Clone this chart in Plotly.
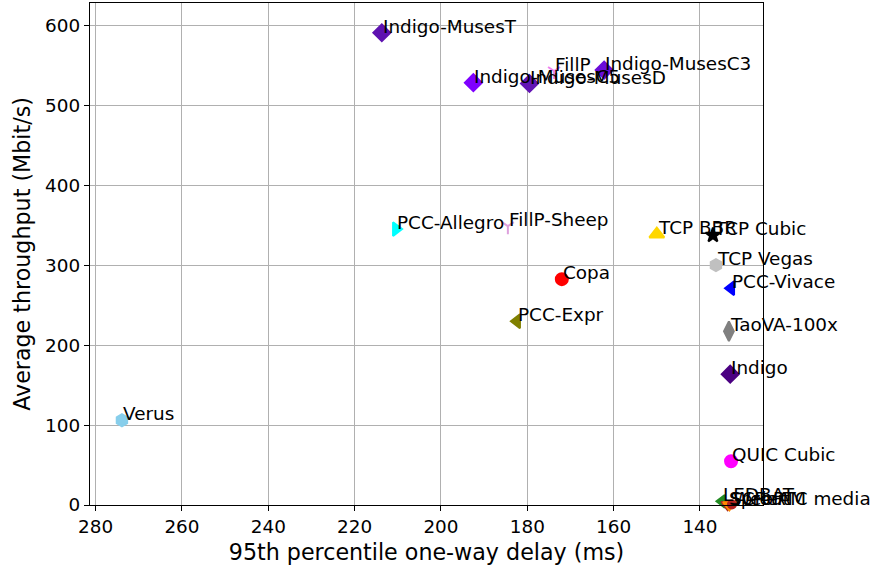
import plotly.graph_objects as go

# Scheme results: 95th percentile one-way delay (ms) vs average throughput (Mbit/s)
schemes = [
    "Indigo-MusesT", "Indigo-MusesC5", "Indigo-MusesD", "FillP", "Indigo-MusesC3",
    "PCC-Allegro", "FillP-Sheep", "TCP BBR", "TCP Cubic", "TCP Vegas",
    "PCC-Vivace", "Copa", "PCC-Expr", "TaoVA-100x", "Indigo",
    "Verus", "QUIC Cubic", "LEDBAT", "Sprout", "SCReAM", "WebRTC media",
]
delay_ms = [
    213.7, 192.5, 179.5, 173.8, 162.2,
    210.4, 184.5, 150.0, 137.0, 136.3,
    132.8, 172.0, 182.4, 133.3, 133.0,
    273.9, 132.8, 134.9, 133.6, 133.2, 132.6,
]
throughput = [
    590.7, 528.2, 527.2, 542.8, 544.0,
    345.1, 348.8, 338.8, 337.5, 300.0,
    271.2, 282.5, 229.9, 217.4, 163.6,
    106.0, 54.7, 4.6, 0.4, 0.1, 0.6,
]
colors = [
    "#5e12b0", "#7f00ff", "#6314b4", "#ee82ee", "#6a0dd8",
    "#00ffff", "#dda0dd", "#ffd700", "#000000", "#c0c0c0",
    "#0000ff", "#ff0000", "#808000", "#808080", "#4b0082",
    "#87ceeb", "#ff00ff", "#228b22", "#a52a2a", "#ff8c00", "#b22222",
]
symbols = [
    "diamond", "diamond", "diamond", "y-down-open", "diamond",
    "triangle-right", "y-down-open", "triangle-up", "star", "hexagon",
    "triangle-left", "circle", "triangle-left", "diamond-tall", "diamond",
    "hexagon", "circle", "triangle-left", "triangle-down", "triangle-down", "circle",
]
sizes = [
    13, 13, 13, 10, 13,
    12, 10, 13, 11, 12,
    12, 12, 12, 14, 13,
    12, 12, 11, 11, 11, 8,
]

x_ticks = [280, 260, 240, 220, 200, 180, 160, 140]
y_ticks = [0, 100, 200, 300, 400, 500, 600]

FONT = "DejaVu Sans, Arial, sans-serif"

fig = go.Figure()
fig.add_trace(go.Scatter(
    x=delay_ms,
    y=throughput,
    mode="markers",
    cliponaxis=False,
    marker=dict(
        color=colors,
        symbol=symbols,
        size=sizes,
        opacity=1,
        line=dict(color=colors, width=2),
    ),
    hovertext=schemes,
    showlegend=False,
))

# Scheme names: text starts at the point, baseline on the point
for name, xv, yv in zip(schemes, delay_ms, throughput):
    fig.add_annotation(
        x=xv, y=yv, text=name, showarrow=False,
        xanchor="left", yanchor="bottom",
        xshift=-1, yshift=-6,
        font=dict(family=FONT, size=18.4, color="black"),
    )

axis_common = dict(
    showgrid=True, gridcolor="#b0b0b0", gridwidth=1.2,
    showline=True, mirror=True, linecolor="black", linewidth=1.3,
    ticks="outside", ticklen=5, tickwidth=1.2, tickcolor="black",
    zeroline=False,
    tickfont=dict(family=FONT, size=18.4, color="black"),
)

fig.update_xaxes(
    range=[281.3, 125.4],
    tickvals=x_ticks,
    ticktext=[str(v) for v in x_ticks],
    title=dict(text="95th percentile one-way delay (ms)",
               font=dict(family=FONT, size=22.2, color="black"), standoff=8),
    **axis_common,
)
fig.update_yaxes(
    range=[0, 627.9],
    tickvals=y_ticks,
    ticktext=[str(v) for v in y_ticks],
    title=dict(text="Average throughput (Mbit/s)",
               font=dict(family=FONT, size=22.2, color="black"), standoff=8),
    **axis_common,
)

fig.update_layout(
    width=877, height=573,
    margin=dict(l=90, r=114, t=3, b=68),
    paper_bgcolor="white", plot_bgcolor="white",
    font=dict(family=FONT),
)

fig.write_html("out.html")
